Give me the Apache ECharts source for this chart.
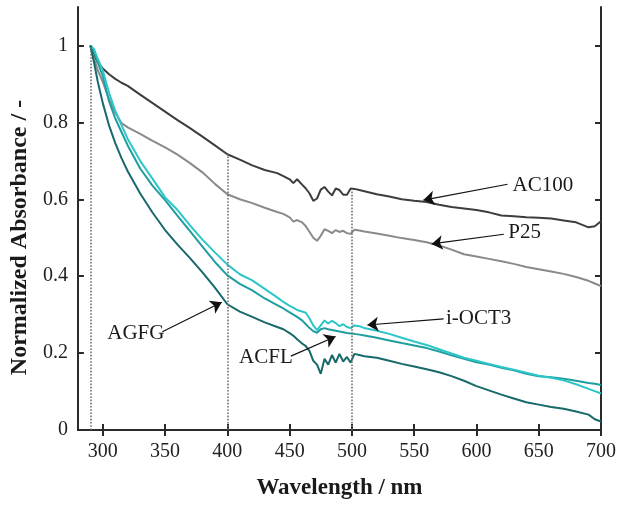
<!DOCTYPE html>
<html>
<head>
<meta charset="utf-8">
<script src="https://cdn.jsdelivr.net/npm/echarts@6/dist/echarts.min.js"></script>
<style>
html,body{margin:0;padding:0;background:#fff;}
#chart{width:620px;height:505px;}
</style>
</head>
<body>
<div id="chart"></div>
<script>
// Wavelength (nm)
const wavelengths = [290,293,296,300,305,310,315,320,330,340,350,360,370,380,390,400,410,420,430,440,445,450,453,456,460,463,466,469,472,475,478,481,484,487,490,493,496,499,502,506,510,520,530,540,550,560,570,580,590,600,610,620,630,640,650,660,670,680,690,695,700];

const ac100 = [1.0,0.975,0.955,0.940,0.925,0.913,0.903,0.895,0.872,0.850,0.828,0.806,0.785,0.763,0.740,0.717,0.703,0.688,0.676,0.668,0.660,0.652,0.642,0.652,0.638,0.628,0.615,0.596,0.602,0.625,0.632,0.620,0.610,0.628,0.624,0.612,0.612,0.628,0.627,0.624,0.621,0.613,0.607,0.600,0.596,0.593,0.586,0.580,0.576,0.572,0.566,0.558,0.556,0.553,0.552,0.550,0.545,0.540,0.527,0.530,0.543];

const p25 = [1.0,0.965,0.935,0.905,0.860,0.825,0.798,0.787,0.770,0.752,0.735,0.716,0.694,0.670,0.640,0.613,0.600,0.590,0.578,0.567,0.562,0.553,0.542,0.546,0.540,0.530,0.515,0.500,0.492,0.505,0.522,0.518,0.512,0.520,0.515,0.518,0.512,0.510,0.521,0.519,0.516,0.511,0.505,0.499,0.494,0.488,0.480,0.469,0.457,0.451,0.445,0.439,0.432,0.424,0.418,0.412,0.406,0.398,0.388,0.381,0.374];

const iOct3 = [1.0,0.990,0.965,0.935,0.877,0.830,0.793,0.757,0.700,0.653,0.605,0.572,0.532,0.495,0.462,0.430,0.405,0.389,0.367,0.345,0.333,0.323,0.318,0.312,0.308,0.305,0.290,0.272,0.260,0.272,0.285,0.277,0.284,0.278,0.270,0.275,0.268,0.265,0.272,0.270,0.265,0.258,0.250,0.240,0.230,0.221,0.210,0.199,0.188,0.180,0.172,0.164,0.157,0.149,0.141,0.136,0.129,0.119,0.107,0.101,0.095];

const acfl = [1.0,0.985,0.955,0.920,0.855,0.810,0.775,0.740,0.680,0.635,0.598,0.557,0.517,0.477,0.437,0.402,0.380,0.363,0.342,0.325,0.316,0.306,0.300,0.294,0.285,0.275,0.265,0.257,0.253,0.262,0.265,0.262,0.260,0.258,0.256,0.254,0.252,0.251,0.250,0.248,0.246,0.240,0.233,0.226,0.220,0.213,0.204,0.194,0.185,0.176,0.170,0.162,0.155,0.146,0.140,0.137,0.133,0.128,0.122,0.120,0.117];

const agfg = [1.0,0.955,0.905,0.850,0.792,0.746,0.707,0.673,0.615,0.565,0.520,0.482,0.447,0.410,0.370,0.327,0.308,0.294,0.280,0.268,0.262,0.252,0.245,0.236,0.225,0.218,0.205,0.180,0.170,0.146,0.185,0.170,0.195,0.175,0.198,0.178,0.190,0.175,0.198,0.195,0.192,0.188,0.180,0.172,0.165,0.158,0.150,0.140,0.128,0.114,0.103,0.092,0.082,0.072,0.066,0.060,0.055,0.048,0.040,0.028,0.022];

const xTicks = [300,350,400,450,500,550,600,650,700];
const yTicks = [0,0.2,0.4,0.6,0.8,1];

// dotted guide lines: [wavelength, top value]
const guides = [[290,1.0],[400,0.717],[500,0.627]];

// annotation: label, text anchor [x,y], side, arrow start, arrow tip
const notes = [
  {name:'AC100', text:[629,0.636], side:'right', from:[625,0.639], to:[557.4,0.598]},
  {name:'P25', text:[625.5,0.514], side:'right', from:[622,0.509], to:[564,0.484]},
  {name:'i-OCT3', text:[575.5,0.289], side:'right', from:[573.6,0.289], to:[512.4,0.273]},
  {name:'AGFG', text:[349.5,0.250], side:'left', from:[347.8,0.2556], to:[395.5,0.332]},
  {name:'ACFL', text:[452.5,0.189], side:'left', from:[451,0.192], to:[486.9,0.243]}
];

const FONT = '"Liberation Serif", "DejaVu Serif", serif';

function pairs(vals){ return wavelengths.map((w,i)=>[w, vals[i]]); }

const seriesDefs = [
  {name:'AC100', data:ac100, color:'#3d3d3d'},
  {name:'P25', data:p25, color:'#8a8a8a'},
  {name:'ACFL', data:acfl, color:'#1f9e9f'},
  {name:'i-OCT3', data:iOct3, color:'#2dc6c8'},
  {name:'AGFG', data:agfg, color:'#17696b'}
];

const series = seriesDefs.map(s=>({
  type:'line', name:s.name, data:pairs(s.data), showSymbol:false, symbol:'none',
  lineStyle:{color:s.color, width:2}, z:3, silent:true
}));

// helper series for guides and annotations
series.push({
  type:'line', name:'guides', data:[], silent:true, z:1,
  markLine:{
    silent:true, symbol:['none','none'], animation:false,
    label:{show:false},
    lineStyle:{type:'dotted', color:'#6e6e6e', width:1.6},
    data: guides.map(g=>[{coord:[g[0],0]},{coord:[g[0],g[1]]}])
  }
});
series.push({
  type:'line', name:'notes', data:[], silent:true, z:5,
  markLine:{
    silent:true, symbol:['none','arrow'], symbolSize:11, animation:false,
    label:{show:false},
    lineStyle:{type:'solid', color:'#111', width:1.2},
    itemStyle:{color:'#111'},
    data: notes.map(n=>[{coord:n.from},{coord:n.to}])
  },
  markPoint:{
    silent:true, symbol:'circle', symbolSize:0, animation:false,
    data: notes.map(n=>({
      coord:n.text, name:n.name,
      label:{show:true, formatter:n.name, position:n.side, distance:0,
        fontFamily:FONT, fontSize:21, color:'#1a1a1a'}
    }))
  }
});

const axisLine = {show:true, lineStyle:{color:'#2a2a2a', width:2}};

const option = {
  animation:false,
  backgroundColor:'#fff',
  grid:{left:72.7, top:7, right:19, bottom:64.3, containLabel:false},
  xAxis:[
    {type:'value', min:280, max:700, position:'bottom',
     axisLine:axisLine,
     axisTick:{show:true, inside:true, length:6, customValues:xTicks, lineStyle:{color:'#2a2a2a', width:2}},
     axisLabel:{show:true, customValues:xTicks, margin:12, fontFamily:FONT, fontSize:20, color:'#222'},
     splitLine:{show:false},
     name:'Wavelength / nm', nameLocation:'middle', nameGap:47,
     nameTextStyle:{fontFamily:FONT, fontWeight:'bold', fontSize:23, color:'#1a1a1a'}
    },
    {type:'value', min:280, max:700, position:'top',
     axisLine:axisLine,
     axisTick:{show:true, inside:true, length:6, customValues:xTicks, lineStyle:{color:'#2a2a2a', width:2}},
     axisLabel:{show:false}, splitLine:{show:false}
    }
  ],
  yAxis:[
    {type:'value', min:0, max:1.1, position:'left',
     axisLine:axisLine,
     axisTick:{show:true, inside:true, length:6, customValues:yTicks, lineStyle:{color:'#2a2a2a', width:2}},
     axisLabel:{show:true, customValues:yTicks, margin:10, fontFamily:FONT, fontSize:20, color:'#222'},
     splitLine:{show:false},
     name:'Normalized Absorbance / -', nameLocation:'middle', nameGap:38,
     nameTextStyle:{fontFamily:FONT, fontWeight:'bold', fontSize:24, color:'#1a1a1a', padding:[0,38,0,0]}
    },
    {type:'value', min:0, max:1.1, position:'right',
     axisLine:axisLine,
     axisTick:{show:true, inside:true, length:6, customValues:yTicks, lineStyle:{color:'#2a2a2a', width:2}},
     axisLabel:{show:false}, splitLine:{show:false}
    }
  ],
  series:series
};

const chart = echarts.init(document.getElementById('chart'), null, {renderer:'canvas'});
chart.setOption(option);
</script>
</body>
</html>
